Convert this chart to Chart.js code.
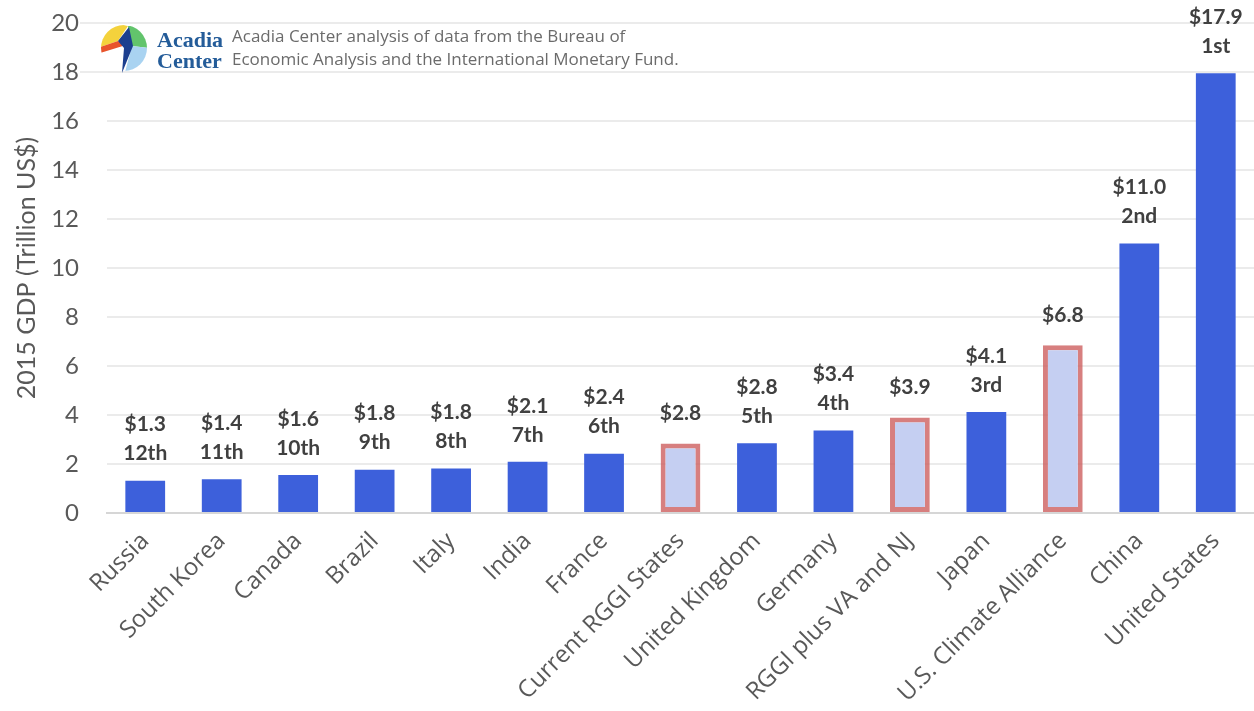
<!DOCTYPE html>
<html>
<head>
<meta charset="utf-8">
<script src="https://cdn.jsdelivr.net/npm/chart.js@4"></script>
<style>
  html, body { margin: 0; padding: 0; background: #fff; }
  #wrap { width: 1254px; height: 711px; }
</style>
</head>
<body>
<div id="wrap"><canvas id="gdpChart"></canvas></div>
<script>
const categories = ["Russia", "South Korea", "Canada", "Brazil", "Italy", "India", "France",
    "Current RGGI States", "United Kingdom", "Germany", "RGGI plus VA and NJ", "Japan",
    "U.S. Climate Alliance", "China", "United States"];
const gdpValues = [1.32, 1.38, 1.55, 1.77, 1.82, 2.09, 2.42, 2.84, 2.85, 3.37, 3.9, 4.12, 6.85, 11.0, 17.95];
const valueLabels = ["$1.3", "$1.4", "$1.6", "$1.8", "$1.8", "$2.1", "$2.4", "$2.8", "$2.8",
    "$3.4", "$3.9", "$4.1", "$6.8", "$11.0", "$17.9"];
const rankLabels = ["12th", "11th", "10th", "9th", "8th", "7th", "6th", "", "5th", "4th",
    "", "3rd", "", "2nd", "1st"];
const highlighted = [false, false, false, false, false, false, false, true, false, false,
    true, false, true, false, false];
const yTicks = [0, 2, 4, 6, 8, 10, 12, 14, 16, 18, 20];

const barBlue = "#3d60db";
const lightBlue = "#c5cff2";
const redEdge = "rgba(205, 95, 95, 0.8)";

// labels above the bars
const barLabels = {
    id: "barLabels",
    afterDatasetsDraw(chart) {
        const ctx = chart.ctx;
        const meta = chart.getDatasetMeta(0);
        ctx.save();
        ctx.fillStyle = "#404040";
        ctx.font = "bold 21px Lato";
        ctx.textAlign = "center";
        ctx.textBaseline = "middle";
        meta.data.forEach(function (bar, i) {
            if (rankLabels[i]) {
                ctx.fillText(rankLabels[i], bar.x, bar.y - 27);
                ctx.fillText(valueLabels[i], bar.x, bar.y - 56);
            } else {
                ctx.fillText(valueLabels[i], bar.x, bar.y - 30);
            }
        });
        ctx.restore();
    }
};

// Acadia Center logo + source note
const sourceNote = {
    id: "sourceNote",
    afterDraw(chart) {
        const ctx = chart.ctx;
        ctx.save();
        ctx.fillStyle = "#fff";
        ctx.fillRect(82, 25, 620, 45);
        ctx.fillStyle = "#ececec";
        ctx.fillRect(80, 22, 28, 2);
        ctx.fillRect(80, 71, 28, 2);

        const poly = function (color, pts) {
            ctx.fillStyle = color;
            ctx.beginPath();
            ctx.moveTo(pts[0][0], pts[0][1]);
            for (let k = 1; k < pts.length; k++) ctx.lineTo(pts[k][0], pts[k][1]);
            ctx.closePath();
            ctx.fill();
        };
        ctx.save();
        ctx.beginPath();
        ctx.arc(124, 48, 23, 0, Math.PI * 2);
        ctx.clip();
        poly("#f4d23c", [[100, 47], [100, 20], [128, 26], [118, 41]]);
        poly("#62c46c", [[128, 26], [150, 26], [150, 48], [132, 46]]);
        poly("#e8542c", [[100, 47], [118, 41], [126, 45], [100, 53]]);
        poly("#a9d3f1", [[132, 46], [150, 48], [150, 76], [124, 76]]);
        ctx.restore();
        poly("#1c3f8f", [[129, 27], [133, 46], [122, 73], [124, 48], [118, 41]]);

        ctx.fillStyle = "#245c99";
        ctx.font = "bold 22px 'Liberation Serif'";
        ctx.textAlign = "left";
        ctx.textBaseline = "alphabetic";
        ctx.fillText("Acadia", 157, 47);
        ctx.fillText("Center", 157, 68);

        ctx.fillStyle = "#6b6b6b";
        ctx.font = "17px 'Open Sans'";
        ctx.fillText("Acadia Center analysis of data from the Bureau of", 232, 42);
        ctx.fillText("Economic Analysis and the International Monetary Fund.", 232, 65);
        ctx.restore();
    }
};

new Chart(document.getElementById("gdpChart"), {
    type: "bar",
    data: {
        labels: categories,
        datasets: [{
            label: "2015 GDP",
            data: gdpValues,
            backgroundColor: highlighted.map(h => h ? lightBlue : barBlue),
            borderColor: highlighted.map(h => h ? redEdge : barBlue),
            borderWidth: highlighted.map(h => h ? 5 : 0),
            borderSkipped: false,
            barPercentage: 0.52,
            categoryPercentage: 1.0
        }]
    },
    options: {
        responsive: true,
        maintainAspectRatio: false,
        animation: false,
        layout: { padding: { top: 23, right: 0, left: 0, bottom: 0 } },
        plugins: {
            legend: { display: false },
            tooltip: { enabled: false }
        },
        scales: {
            x: {
                grid: { display: false },
                border: { color: "#d6d6d6", width: 2 },
                ticks: {
                    color: "#595959",
                    font: { family: "'Open Sans', sans-serif", size: 24 },
                    maxRotation: 45,
                    minRotation: 45,
                    autoSkip: false,
                    padding: 6
                },
                afterFit(scale) { scale.height = 198; }
            },
            y: {
                min: 0,
                max: 20,
                afterBuildTicks(scale) { scale.ticks = yTicks.map(v => ({ value: v })); },
                grid: {
                    color: "#ebebeb",
                    lineWidth: 2,
                    drawTicks: false
                },
                border: { display: false },
                ticks: {
                    color: "#595959",
                    font: { family: "Lato", size: 24 },
                    padding: 28
                },
                title: {
                    display: true,
                    text: "2015 GDP (Trillion US$)",
                    color: "#595959",
                    font: { family: "Lato", size: 25 },
                    padding: { top: 12, bottom: 0 }
                },
                afterFit(scale) {
                    scale.width = 107;
                    scale.paddingTop = 0;
                    scale.paddingBottom = 0;
                }
            }
        }
    },
    plugins: [barLabels, sourceNote]
});
</script>
</body>
</html>
